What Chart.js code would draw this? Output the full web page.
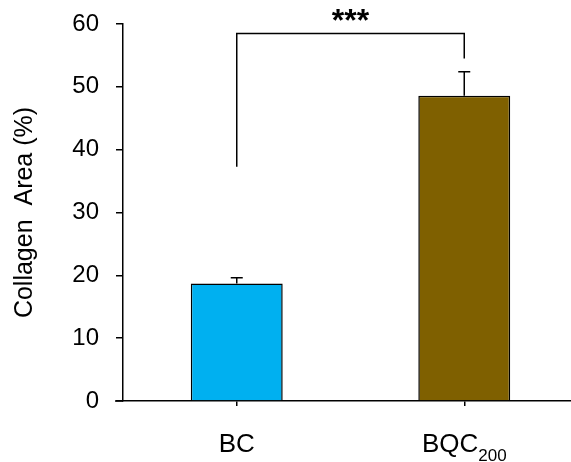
<!DOCTYPE html>
<html>
<head>
<meta charset="utf-8">
<script src="https://cdn.jsdelivr.net/npm/chart.js@4"></script>
<style>
  html, body { margin: 0; padding: 0; background: #fff; overflow: hidden; }
  #wrap { width: 578px; height: 462px; }
</style>
</head>
<body>
<div id="wrap"><canvas id="myChart" width="578" height="462"></canvas></div>
<script>
// データ
const groups = ['BC', 'BQC'];
const groupSubs = ['', '200'];
const collagen = [18.7, 48.6];
const sem = [0.9, 3.8];
const barColors = ['#00B0F0', '#7F6000'];
const yTicks = [0, 10, 20, 30, 40, 50, 60];

// 有意差の括弧
const bracketTop = 58.5;
const bracketLeftEnd = 37.3;
const bracketRightEnd = 54.5;
const starText = '***';

const FONT = '"Liberation Sans", Arial, sans-serif';

// エラーバー・括弧・x軸ラベルを描く
const extras = {
  id: 'extras',
  afterDatasetsDraw(chart) {
    const ctx = chart.ctx;
    const x = chart.scales.x;
    const y = chart.scales.y;
    const area = chart.chartArea;
    const meta = chart.getDatasetMeta(0);
    ctx.save();
    ctx.strokeStyle = '#000';
    ctx.lineWidth = 1.5;
    // x軸を左に少し延ばす
    ctx.beginPath();
    ctx.moveTo(area.left - 8, area.bottom);
    ctx.lineTo(area.left, area.bottom);
    ctx.stroke();
    meta.data.forEach((bar, i) => {
      const top = y.getPixelForValue(collagen[i]);
      const end = y.getPixelForValue(collagen[i] + sem[i]);
      ctx.beginPath();
      ctx.moveTo(bar.x, top);
      ctx.lineTo(bar.x, end);
      ctx.moveTo(bar.x - 6, end);
      ctx.lineTo(bar.x + 6, end);
      ctx.stroke();
    });
    const x1 = x.getPixelForValue(0);
    const x2 = x.getPixelForValue(1);
    const by = y.getPixelForValue(bracketTop);
    ctx.beginPath();
    ctx.moveTo(x1, y.getPixelForValue(bracketLeftEnd));
    ctx.lineTo(x1, by);
    ctx.lineTo(x2, by);
    ctx.lineTo(x2, y.getPixelForValue(bracketRightEnd));
    ctx.stroke();
    ctx.fillStyle = '#000';
    ctx.font = 'bold 32px ' + FONT;
    ctx.textAlign = 'center';
    ctx.textBaseline = 'alphabetic';
    ctx.fillText(starText, (x1 + x2) / 2, by - 2);

    // x軸ラベル（下付き文字つき）
    const baseY = area.bottom + 51;
    groups.forEach((g, i) => {
      const cx = x.getPixelForValue(i);
      ctx.font = '26px ' + FONT;
      const w1 = ctx.measureText(g).width;
      ctx.font = '17px ' + FONT;
      const w2 = groupSubs[i] ? ctx.measureText(groupSubs[i]).width : 0;
      const left = cx - (w1 + w2) / 2;
      ctx.textAlign = 'left';
      ctx.font = '26px ' + FONT;
      ctx.fillText(g, left, baseY);
      if (groupSubs[i]) {
        ctx.font = '17px ' + FONT;
        ctx.fillText(groupSubs[i], left + w1, baseY + 9);
      }
    });
    ctx.restore();
  }
};

const data = {
  labels: groups.map((g, i) => g + groupSubs[i]),
  datasets: [{
    data: collagen,
    backgroundColor: barColors,
    borderColor: '#000',
    borderWidth: 1.5,
    barPercentage: 0.404,
    categoryPercentage: 1.0
  }]
};

const config = {
  type: 'bar',
  data: data,
  options: {
    responsive: false,
    animation: false,
    layout: { padding: { top: 24, right: 0, left: 0, bottom: 0 } },
    plugins: {
      legend: { display: false },
      tooltip: { enabled: false }
    },
    scales: {
      x: {
        offset: true,
        grid: { drawOnChartArea: false, offset: false, tickLength: 5, color: '#000', lineWidth: 1.5 },
        border: { display: true, color: '#000', width: 1.5 },
        ticks: { display: false },
        afterFit(scale) { scale.height = 61; scale.paddingLeft = 0; scale.paddingRight = 0; }
      },
      y: {
        min: 0,
        max: 60,
        afterBuildTicks(scale) { scale.ticks = yTicks.map(v => ({ value: v })); },
        grid: { drawOnChartArea: false, tickLength: 7, color: '#000', lineWidth: 1.5 },
        border: { display: true, color: '#000', width: 1.5 },
        ticks: {
          color: '#000',
          padding: 17,
          font: { family: FONT, size: 24 }
        },
        title: {
          display: true,
          text: 'Collagen  Area (%)',
          color: '#000',
          padding: { top: 10, bottom: 0 },
          font: { family: FONT, size: 25 }
        },
        afterFit(scale) { scale.width = 123; scale.paddingTop = 0; scale.paddingBottom = 0; }
      }
    }
  },
  plugins: [extras]
};

const myChart = new Chart(document.getElementById('myChart'), config);
</script>
</body>
</html>
